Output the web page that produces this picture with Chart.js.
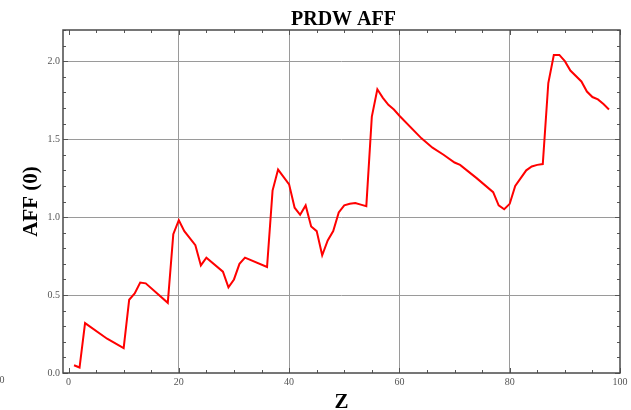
<!DOCTYPE html>
<html>
<head>
<meta charset="utf-8">
<script src="https://cdn.jsdelivr.net/npm/chart.js@4/dist/chart.umd.min.js"></script>
<style>
  html, body { margin: 0; padding: 0; background: #fff; }
  #wrap { width: 631px; height: 410px; }
</style>
</head>
<body>
<div id="wrap"><canvas id="affChart" width="631" height="410"></canvas></div>
<script>
// Dados
const zValues = [1, 2, 3, 7, 10, 11, 12, 13, 14, 18, 19, 20, 21, 23, 24, 25, 28, 29, 30, 31, 32, 36, 37, 38, 40,
  41, 42, 43, 44, 45, 46, 47, 48, 49, 50, 51, 52, 53, 54, 55, 56, 57, 58, 59, 60, 64, 66, 68, 70, 71, 74, 77, 78,
  79, 80, 81, 83, 84, 85, 86, 87, 88, 89, 90, 91, 93, 94, 95, 96, 97, 98];
const affValues = [0.05, 0.035, 0.32, 0.22, 0.16, 0.47, 0.51, 0.58, 0.575, 0.45, 0.89, 0.98, 0.91, 0.82, 0.69, 0.74,
  0.65, 0.55, 0.60, 0.70, 0.74, 0.68, 1.17, 1.305, 1.21, 1.06, 1.015, 1.075, 0.94, 0.91, 0.755, 0.85, 0.91, 1.03,
  1.075, 1.085, 1.09, 1.08, 1.07, 1.645, 1.82, 1.765, 1.72, 1.69, 1.65, 1.505, 1.445, 1.40, 1.35, 1.335, 1.25, 1.16,
  1.075, 1.05, 1.085, 1.20, 1.30, 1.325, 1.335, 1.34, 1.86, 2.04, 2.04, 2.00, 1.94, 1.87, 1.805, 1.77, 1.755,
  1.725, 1.69];
const xTicks = [0, 20, 40, 60, 80, 100];
const yTicks = [0.0, 0.5, 1.0, 1.5, 2.0];

const serif = "'Liberation Serif', 'DejaVu Serif', serif";
const chartTitle = 'PRDW AFF';

// Moldura, marcas internas e título centrado na área do gráfico
const frameTicks = {
  id: 'frameTicks',
  afterDraw(chart) {
    const { ctx, chartArea: a, scales: { x, y } } = chart;
    ctx.save();
    ctx.strokeStyle = '#555';
    ctx.lineWidth = 1;
    ctx.beginPath();
    for (let v = 0; v <= 100; v += 5) {
      const px = Math.round(x.getPixelForValue(v)) + 0.5;
      const len = v % 20 === 0 ? 5 : 3;
      ctx.moveTo(px, a.bottom); ctx.lineTo(px, a.bottom - len);
      ctx.moveTo(px, a.top); ctx.lineTo(px, a.top + len);
    }
    for (let i = 0; i <= 22; i++) {
      const v = i / 10;
      const py = Math.round(y.getPixelForValue(v)) + 0.5;
      const len = i % 5 === 0 ? 5 : 3;
      ctx.moveTo(a.left, py); ctx.lineTo(a.left + len, py);
      ctx.moveTo(a.right, py); ctx.lineTo(a.right - len, py);
    }
    ctx.stroke();
    ctx.lineWidth = 1.5;
    ctx.strokeStyle = '#4a4a4a';
    ctx.strokeRect(a.left, a.top, a.right - a.left, a.bottom - a.top);

    ctx.fillStyle = '#000';
    ctx.font = 'bold 20px ' + serif;
    ctx.textAlign = 'center';
    ctx.textBaseline = 'alphabetic';
    ctx.fillText(chartTitle, (a.left + a.right) / 2 + 2, 25);

    // rótulo solto no canto inferior esquerdo
    ctx.fillStyle = '#555';
    ctx.font = '10px ' + serif;
    ctx.textBaseline = 'middle';
    ctx.fillText('0', 2, 380);
    ctx.restore();
  }
};

const chartCtx = document.getElementById('affChart').getContext('2d');

new Chart(chartCtx, {
  type: 'line',
  data: {
    datasets: [{
      data: zValues.map((z, i) => ({ x: z, y: affValues[i] })),
      borderColor: '#ff0000',
      borderWidth: 2,
      tension: 0,
      pointRadius: 0,
      fill: false
    }]
  },
  options: {
    responsive: false,
    animation: false,
    layout: { padding: { right: 11, top: 30, bottom: 0, left: 0 } },
    plugins: {
      legend: { display: false },
      tooltip: { enabled: false },
      title: { display: false }
    },
    scales: {
      x: {
        type: 'linear',
        min: -1,
        max: 100,
        afterBuildTicks: (s) => { s.ticks = xTicks.map(v => ({ value: v })); },
        afterFit: (s) => { s.height = 37; },
        border: { display: false },
        grid: {
          drawTicks: false,
          color: (c) => (c.tick && c.tick.value > 0 && c.tick.value < 100) ? '#9a9a9a' : 'rgba(0,0,0,0)',
          lineWidth: 1
        },
        ticks: {
          color: '#555',
          font: { family: serif, size: 10 },
          padding: 3,
          maxRotation: 0,
          callback: (v) => String(v)
        },
        title: {
          display: true,
          text: 'Z',
          color: '#000',
          font: { family: serif, size: 21, weight: 'bold', lineHeight: 1 },
          padding: { top: 0, bottom: -3 }
        }
      },
      y: {
        type: 'linear',
        min: 0,
        max: 2.2,
        afterBuildTicks: (s) => { s.ticks = yTicks.map(v => ({ value: v })); },
        afterFit: (s) => { s.width = 63; },
        border: { display: false },
        grid: {
          drawTicks: false,
          color: (c) => (c.tick && c.tick.value > 0) ? '#9a9a9a' : 'rgba(0,0,0,0)',
          lineWidth: 1
        },
        ticks: {
          color: '#555',
          font: { family: serif, size: 10 },
          padding: 3,
          callback: (v) => Number(v).toFixed(1)
        },
        title: {
          display: true,
          text: 'AFF (0)',
          color: '#000',
          font: { family: serif, size: 21, weight: 'bold', lineHeight: 1 },
          padding: { top: 21, bottom: 0 }
        }
      }
    }
  },
  plugins: [frameTicks]
});
</script>
</body>
</html>
